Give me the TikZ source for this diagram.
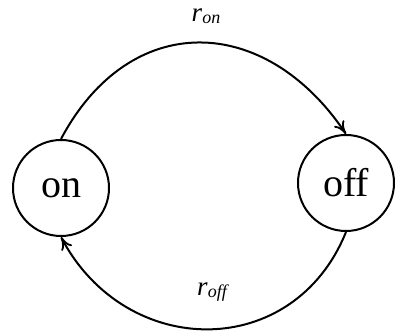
\documentclass[tikz,border=0pt]{standalone}
\usepackage{fontspec}
\setmainfont{Liberation Serif}
\usetikzlibrary{arrows.meta}
\newcommand{\ratelabel}[1]{{\fontsize{27}{27}\selectfont\itshape r}\raisebox{-0.25em}{\fontsize{18}{18}\selectfont\itshape #1}}
\begin{document}
\begin{tikzpicture}[x=1pt,y=1pt,
  state/.style={draw,circle,line width=2pt,inner sep=0pt,minimum size=96pt,font=\fontsize{40}{40}\selectfont},
  trans/.style={line width=2pt,-{To[length=13pt,width=12pt,line width=1.8pt]}},
  rate/.style={inner sep=0pt}]
\useasboundingbox (0,0) rectangle (396,331);
\node[state] (on) at (61,143) {on};
\node[state] (off) at (346,148) {off};
\draw[trans] (on.north) to[out=62,in=124,looseness=1.31] (off.north);
\draw[trans] (off.south) to[out=248,in=298,looseness=1.25] (on.south);
\node[rate] (ron) at (206,315) {\ratelabel{on}};
\node[rate] (roff) at (212,39) {\ratelabel{off}};
\end{tikzpicture}
\end{document}
